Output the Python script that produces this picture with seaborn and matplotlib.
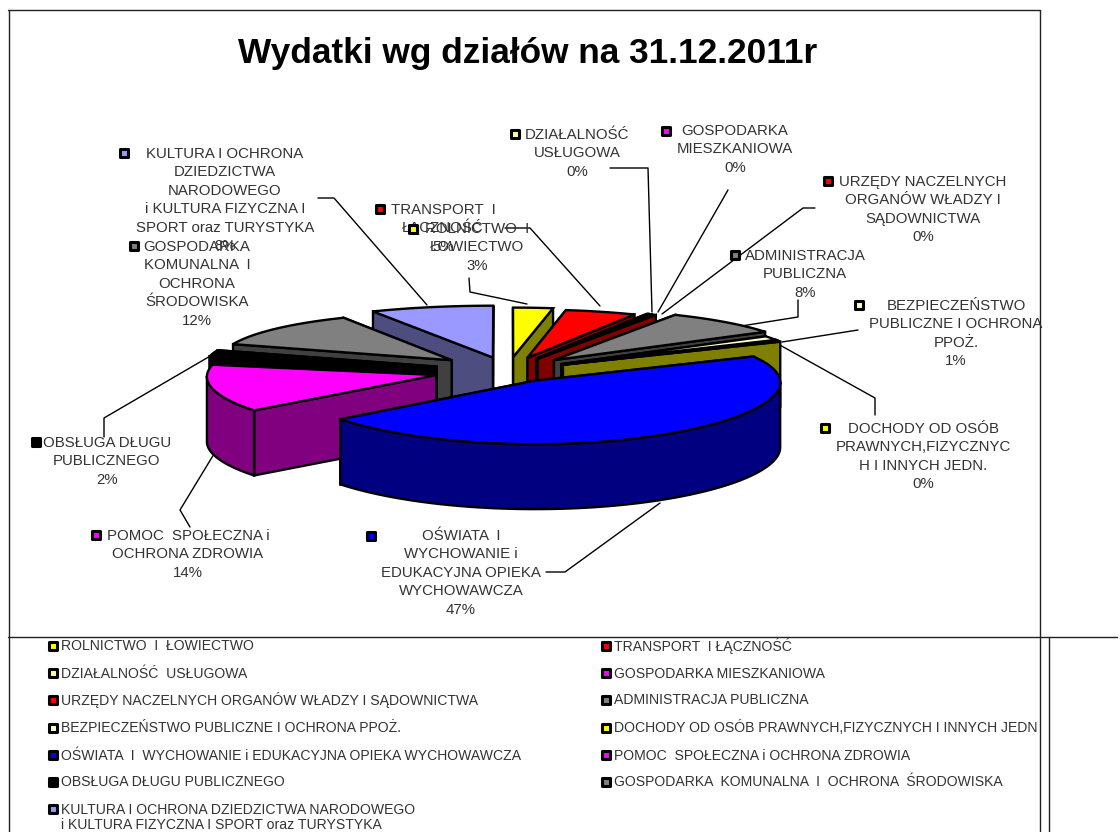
import numpy as np
import pandas as pd
import matplotlib
matplotlib.use("Agg")
import matplotlib.pyplot as plt
from matplotlib.colors import to_rgb
import seaborn as sns

# Data
names = ["ROLNICTWO  I  ŁOWIECTWO", "TRANSPORT  I ŁĄCZNOŚĆ", "DZIAŁALNOŚĆ  USŁUGOWA",
         "GOSPODARKA MIESZKANIOWA", "URZĘDY NACZELNYCH ORGANÓW WŁADZY I SĄDOWNICTWA",
         "ADMINISTRACJA PUBLICZNA", "BEZPIECZEŃSTWO PUBLICZNE I OCHRONA PPOŻ.",
         "DOCHODY OD OSÓB PRAWNYCH,FIZYCZNYCH I INNYCH JEDN",
         "OŚWIATA  I  WYCHOWANIE i EDUKACYJNA OPIEKA WYCHOWAWCZA",
         "POMOC  SPOŁECZNA i OCHRONA ZDROWIA", "OBSŁUGA DŁUGU PUBLICZNEGO",
         "GOSPODARKA  KOMUNALNA  I  OCHRONA  ŚRODOWISKA",
         "KULTURA I OCHRONA DZIEDZICTWA NARODOWEGO\ni KULTURA FIZYCZNA I SPORT oraz TURYSTYKA"]
values = [2.7, 5.0, 0.1, 0.2, 0.3, 8.0, 1.3, 0.4, 46.6, 14.0, 2.0, 12.0, 8.0]
colors = ["#FFFF00", "#FF0000", "#FFFF99", "#FF00FF", "#FF0000", "#808080", "#FFFFCC",
          "#FFFF00", "#0000FF", "#FF00FF", "#000000", "#808080", "#9999FF"]
explode = [0.25, 0.25, 0.25, 0.25, 0.25, 0.27, 0.25, 0.25, 0.2, 0.3, 0.3, 0.3, 0.25]
radius = [1.0, 0.97, 1.0, 1.0, 1.0, 1.03, 0.995, 0.995, 0.995, 0.93, 0.95, 0.95, 1.05]

labels = [["ROLNICTWO  I", "ŁOWIECTWO", "3%"],
          ["TRANSPORT  I", "ŁĄCZNOŚĆ", "5%"],
          ["DZIAŁALNOŚĆ", "USŁUGOWA", "0%"],
          ["GOSPODARKA", "MIESZKANIOWA", "0%"],
          ["URZĘDY NACZELNYCH", "ORGANÓW WŁADZY I", "SĄDOWNICTWA", "0%"],
          ["ADMINISTRACJA", "PUBLICZNA", "8%"],
          ["BEZPIECZEŃSTWO", "PUBLICZNE I OCHRONA", "PPOŻ.", "1%"],
          ["DOCHODY OD OSÓB", "PRAWNYCH,FIZYCZNYC", "H I INNYCH JEDN.", "0%"],
          ["OŚWIATA  I", "WYCHOWANIE i", "EDUKACYJNA OPIEKA", "WYCHOWAWCZA", "47%"],
          ["POMOC  SPOŁECZNA i", "OCHRONA ZDROWIA", "14%"],
          ["OBSŁUGA DŁUGU", "PUBLICZNEGO", "2%"],
          ["GOSPODARKA", "KOMUNALNA  I", "OCHRONA", "ŚRODOWISKA", "12%"],
          ["KULTURA I OCHRONA", "DZIEDZICTWA", "NARODOWEGO", "i KULTURA FIZYCZNA I", "SPORT oraz TURYSTYKA", "8%"]]

# Layout in pixels of the picture
label_x = [477, 443, 577, 735, 923, 805, 956, 923, 461, 188, 107, 197, 225]
label_y = [228, 209, 134, 130, 181, 255, 305, 428, 535, 535, 442, 246, 153]
key_x = [413, 380, 515, 666, 828, 735, 859, 825, 371, 96, 36, 134, 124]
key_y = [229, 209, 134, 131, 181, 255, 305, 428, 536, 535, 442, 246, 153]
legend_x = [53, 606, 53, 606, 53, 606, 53, 606, 53, 606, 53, 606, 53]
legend_y = [646, 646, 673, 673, 700, 700, 728, 728, 755, 755, 782, 782, 809]
leaders = [[(469, 278), (470, 292), (527, 304)],
           [(505, 228), (530, 228), (600, 306)],
           [(610, 168), (648, 168), (652, 312)],
           [(728, 190), (658, 312)],
           [(815, 208), (803, 208), (662, 314)],
           [(798, 300), (798, 317), (735, 327)],
           [(858, 330), (782, 342)],
           [(778, 344), (875, 398), (875, 415)],
           [(546, 572), (565, 572), (660, 503)],
           [(190, 527), (180, 510), (214, 454)],
           [(104, 437), (104, 418), (212, 355)],
           [(318, 198), (334, 198), (427, 305)]]

cx, cy = 508, 371
depth = 65
text_color = "#333333"

sns.set_theme(style="white")
plt.rcParams["font.family"] = ["Liberation Sans", "DejaVu Sans"]

fig = plt.figure(figsize=(11.2, 8.32), dpi=100)
ax = fig.add_axes([0, 0, 1, 1])


def project(x, y, drop=0.0):
    # back of the pie is a bit narrower and flatter than the front
    return cx + x * (246 - 6 * y), cy - (57 * y - 5 * y ** 2) + drop


def dark(c):
    return tuple(v * 0.5 for v in to_rgb(c))


def face(xs, ys, color):
    ax.fill(xs, ys, facecolor=color, edgecolor="black", linewidth=1.7, joinstyle="miter", zorder=3)


edges = np.concatenate([[0], np.cumsum(values)]) / np.sum(values) * 2 * np.pi
mids = (edges[:-1] + edges[1:]) / 2

# back slices first, the front ones cover them
for i in np.argsort(-np.cos(mids)):
    t = np.linspace(edges[i], edges[i + 1], max(3, int(np.degrees(edges[i + 1] - edges[i]))))
    ox, oy = explode[i] * np.sin(mids[i]), explode[i] * np.cos(mids[i])
    rim_x, rim_y = ox + radius[i] * np.sin(t), oy + radius[i] * np.cos(t)

    walls = [((oy + rim_y[0]) / 2, np.array([ox, rim_x[0]]), np.array([oy, rim_y[0]])),
             ((oy + rim_y[-1]) / 2, np.array([ox, rim_x[-1]]), np.array([oy, rim_y[-1]]))]
    # only the front half of the outer wall can be seen
    front = (t >= np.pi / 2) & (t <= 3 * np.pi / 2)
    if front.sum() > 1:
        walls.append((np.mean(rim_y[front]), rim_x[front], rim_y[front]))
    for _, wx, wy in sorted(walls, key=lambda w: -w[0]):
        tx, ty = project(wx, wy)
        bx, by = project(wx, wy, depth)
        face(np.r_[tx, bx[::-1]], np.r_[ty, by[::-1]], dark(colors[i]))

    sx, sy = project(np.r_[ox, rim_x], np.r_[oy, rim_y])
    face(sx, sy, colors[i])

# page frame
frame = [((9, 9), (10, 832)), ((8, 1040), (10, 10)), ((1040, 1040), (10, 832)),
         ((8, 1117), (637, 637)), ((1049, 1049), (637, 832))]
for fx, fy in frame:
    ax.plot(fx, fy, color="#222222", lw=1.0, zorder=1)

for pts in leaders:
    ax.plot([p[0] for p in pts], [p[1] for p in pts], color="black", lw=1.0, zorder=2)

# slice labels
for lines, lx, ly in zip(labels, label_x, label_y):
    for n, line in enumerate(lines):
        ax.text(lx, ly + n * 18.4 + 5, line, ha="center", va="baseline", fontsize=10.8,
                color=text_color, zorder=4)

# legend texts
for name, lx, ly in zip(names, legend_x, legend_y):
    for n, line in enumerate(name.split("\n")):
        ax.text(lx + 8, ly + n * 15.5 + 4.5, line, ha="left", va="baseline", fontsize=10.1, color=text_color)

# colour keys
keys = pd.DataFrame({"x": key_x + legend_x, "y": key_y + legend_y,
                     "name": names + names, "color": colors + colors})
palette = dict(zip(names, colors))
sns.scatterplot(data=keys, x="x", y="y", hue="name", palette=palette, marker="s", s=26,
                edgecolor="black", linewidth=2.2, legend=False, ax=ax, zorder=5)

ax.text(528, 54, "Wydatki wg działów na 31.12.2011r", ha="center", va="center",
        fontsize=25.4, fontweight="bold", color="black")

ax.set_xlim(0, 1120)
ax.set_ylim(832, 0)
ax.set_xlabel("")
ax.set_ylabel("")
ax.axis("off")

fig.savefig("out.png", dpi=100, facecolor="white")
